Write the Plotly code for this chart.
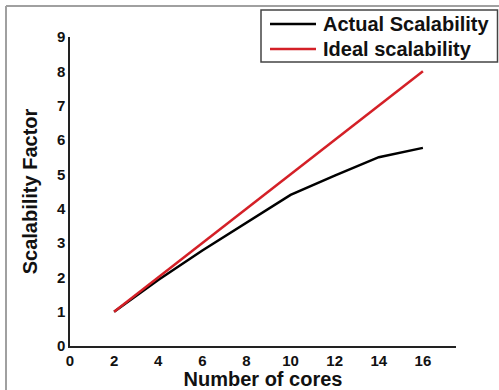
import plotly.graph_objects as go

cores = [2, 4, 6, 8, 10, 12, 14, 16]
actual = [1.0, 1.92, 2.78, 3.59, 4.40, 4.96, 5.50, 5.77]
ideal = [1, 2, 3, 4, 5, 6, 7, 8]
series_names = ["Actual Scalability", "Ideal scalability"]
series_colors = ["#000000", "#d42027"]
x_ticks = [0, 2, 4, 6, 8, 10, 12, 14, 16]
y_ticks = [0, 1, 2, 3, 4, 5, 6, 7, 8, 9]

FONT = "Liberation Sans, Arial, sans-serif"

fig = go.Figure()
for name, vals, col in zip(series_names, [actual, ideal], series_colors):
    fig.add_trace(go.Scatter(x=cores, y=vals, mode="lines", name=name,
                             line=dict(color=col, width=2.5)))

L, R, T, B = 70, 43, 37, 44
W, H = 499, 390
pw = W - L - R
ph = H - T - B

def px2x(p):
    return (p - L) / pw

def py2y(p):
    return (H - B - p) / ph

shapes = [
    dict(type="line", xref="paper", yref="paper", x0=px2x(6), x1=px2x(6),
         y0=py2y(392), y1=py2y(6), line=dict(color="#a0a0a0", width=2)),
    dict(type="line", xref="paper", yref="paper", x0=px2x(6), x1=px2x(499),
         y0=py2y(6), y1=py2y(6), line=dict(color="#a0a0a0", width=2)),
    # legend box
    dict(type="rect", xref="paper", yref="paper", x0=px2x(261), x1=px2x(497.5),
         y0=py2y(62), y1=py2y(10), fillcolor="white",
         line=dict(color="#444444", width=1.5), layer="above"),
]
annotations = []
for i, (name, col) in enumerate(zip(series_names, series_colors)):
    yc = 24 + 25 * i
    shapes.append(dict(type="line", xref="paper", yref="paper", x0=px2x(270), x1=px2x(316),
                       y0=py2y(yc), y1=py2y(yc), line=dict(color=col, width=2.5),
                       layer="above"))
    annotations.append(dict(text=f"<b>{name}</b>", xref="paper", yref="paper",
                            x=px2x(321), y=py2y(yc), xanchor="left", yanchor="middle",
                            showarrow=False,
                            font=dict(family=FONT, size=20, color="#111111")))

tickfont = dict(family=FONT, size=15, weight="bold", color="#111111")

fig.update_layout(
    width=W, height=H,
    margin=dict(l=L, r=R, t=T, b=B, pad=0),
    paper_bgcolor="white", plot_bgcolor="white",
    font=dict(family=FONT, color="#111111"),
    showlegend=False,
    xaxis=dict(
        range=[0, 17.5], tickvals=x_ticks, ticktext=[f"<b>{v}</b>" for v in x_ticks],
        showgrid=False, zeroline=False, automargin=False,
        showline=True, linecolor="#222222", linewidth=1.5, ticks="",
        tickfont=tickfont,
        title=dict(text="<b>Number of cores</b>", standoff=14,
                   font=dict(family=FONT, size=20, color="#111111")),
    ),
    yaxis=dict(
        range=[0, 9], tickvals=y_ticks, ticktext=[f"<b>{v}</b>" for v in y_ticks],
        showgrid=False, zeroline=False, automargin=False,
        showline=True, linecolor="#222222", linewidth=1.5, ticks="",
        tickfont=tickfont,
        title=dict(text="<b>Scalability Factor</b>", standoff=14,
                   font=dict(family=FONT, size=20, color="#111111")),
    ),
    shapes=shapes,
    annotations=annotations,
)

fig.write_html("out.html")
